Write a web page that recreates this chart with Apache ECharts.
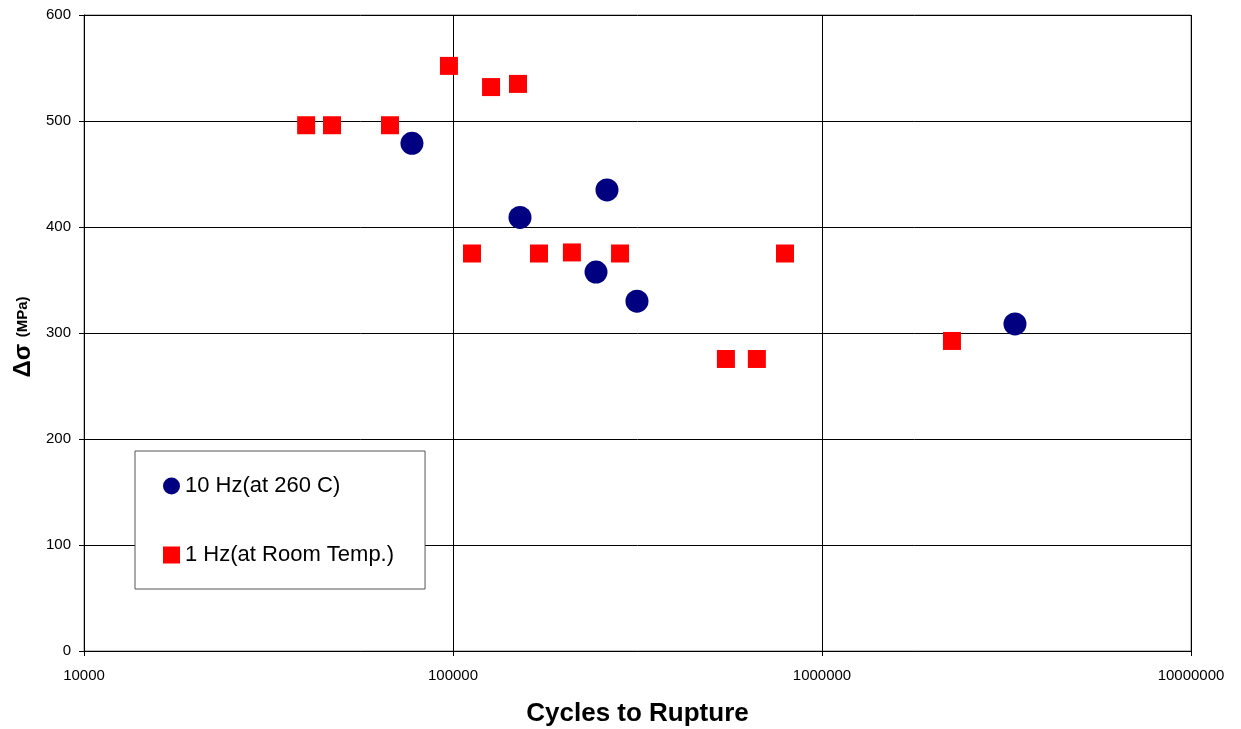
<!DOCTYPE html>
<html>
<head>
<meta charset="utf-8">
<script src="https://cdn.jsdelivr.net/npm/echarts@6/dist/echarts.min.js"></script>
<style>html,body{margin:0;padding:0;background:#fff}#c{width:1241px;height:729px}</style>
</head>
<body>
<div id="c"></div>
<script>
const hz10Cycles = [77400, 151900, 261400, 244100, 315200, 3334000];
const hz10Stress = [479, 409, 435, 357.5, 330, 308.5];
const hz1Cycles = [40000, 47000, 67500, 97500, 126800, 150000, 112600, 171000, 210000, 283600, 549000, 666000, 793700, 2250000];
const hz1Stress = [496, 496, 496, 552, 532, 535, 375, 375, 376, 375, 275.5, 275.5, 375, 292.5];
const seriesNames = ['10 Hz(at 260 C)', '1 Hz(at Room Temp.)'];
const yTicks = [0, 100, 200, 300, 400, 500, 600];

const chart = echarts.init(document.getElementById('c'), null, {renderer: 'canvas'});
const font = 'Arial, "Liberation Sans", sans-serif';
chart.setOption({
  animation: false,
  backgroundColor: '#fff',
  grid: {left: 84, right: 50, top: 15, bottom: 78, show: true, borderColor: '#808080', borderWidth: 1, backgroundColor: '#fff', outerBoundsMode: 'none', containLabel: false},
  legend: {
    orient: 'vertical', left: 135, top: 451,
    padding: [24, 31, 23, 28], itemGap: 47, itemWidth: 17, itemHeight: 17,
    backgroundColor: '#fff', borderColor: '#555', borderWidth: 1, borderRadius: 0,
    textStyle: {fontFamily: font, fontSize: 22, color: '#000'},
    data: [{name: seriesNames[0], icon: 'circle'}, {name: seriesNames[1], icon: 'rect'}]
  },
  xAxis: {
    type: 'log', logBase: 10, min: 10000, max: 10000000,
    name: 'Cycles to Rupture', nameLocation: 'middle', nameGap: 50,
    nameTextStyle: {fontFamily: font, fontSize: 26, fontWeight: 'bold', color: '#000'},
    axisLine: {lineStyle: {color: '#000', width: 1}},
    axisTick: {show: true, length: 5, lineStyle: {color: '#000'}},
    minorTick: {show: false},
    axisLabel: {fontFamily: font, fontSize: 15, color: '#000', margin: 17, formatter: v => String(Math.round(v))},
    splitLine: {show: true, lineStyle: {color: '#000', width: 1}}
  },
  yAxis: {
    type: 'value', min: 0, max: 600, interval: 100,
    name: '{a|Δσ }{b|(MPa)}{c|}', nameLocation: 'middle', nameGap: 48, nameRotate: 90,
    nameTextStyle: {rich: {
      a: {fontFamily: font, fontSize: 24, fontWeight: 'bold', color: '#000'},
      b: {fontFamily: font, fontSize: 15, fontWeight: 'bold', color: '#000'},
      c: {width: 8}
    }},
    axisLine: {show: true, lineStyle: {color: '#000', width: 1}},
    axisTick: {show: true, length: 5, lineStyle: {color: '#000'}},
    axisLabel: {fontFamily: font, fontSize: 15, color: '#000', margin: 13,
      formatter: v => yTicks.includes(v) ? String(v) : ''},
    splitLine: {show: true, lineStyle: {color: '#000', width: 1}}
  },
  series: [
    {
      name: seriesNames[0], type: 'scatter', symbol: 'circle', symbolSize: 23,
      itemStyle: {color: '#000080', opacity: 1},
      data: hz10Cycles.map((c, i) => [c, hz10Stress[i]]), z: 3
    },
    {
      name: seriesNames[1], type: 'scatter', symbol: 'rect', symbolSize: 18,
      itemStyle: {color: '#ff0000', opacity: 1},
      data: hz1Cycles.map((c, i) => [c, hz1Stress[i]]), z: 2
    }
  ]
});
</script>
</body>
</html>
